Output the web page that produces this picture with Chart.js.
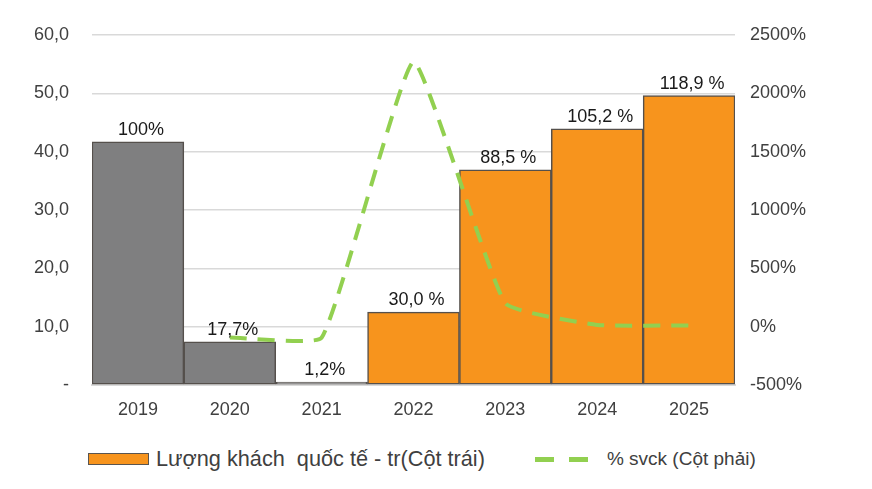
<!DOCTYPE html>
<html>
<head>
<meta charset="utf-8">
<script src="https://cdn.jsdelivr.net/npm/chart.js@4.4.1/dist/chart.umd.min.js"></script>
<style>
  body { margin: 0; background: #fff; font-family: 'Liberation Sans', Arial, sans-serif; }
  #wrap { position: relative; width: 872px; height: 489px; }
  #myChart { position: absolute; left: 0; top: 0; }
  #legend { position: absolute; left: 88px; top: 446px; color: #404040; white-space: nowrap; }
  #legend span { display: inline-block; vertical-align: middle; }
  .box { width: 59px; height: 10px; background: #f7941d; border: 1.5px solid #5a5550; margin-right: 7px; }
  .dash { width: 19px; height: 5px; background: #92d050; margin-right: 15px; }
</style>
</head>
<body>
<div id="wrap">
  <canvas id="myChart" width="872" height="430"></canvas>
  <div id="legend">
    <span class="box"></span><span style="font-size:21.7px">Lượng khách&nbsp; quốc tế - tr(Cột trái)</span><span style="width:50px"></span><span class="dash"></span><span class="dash"></span><span style="font-size:19px; margin-left:4px">% svck (Cột phải)</span>
  </div>
</div>
<script>
'use strict';

let years = [ '2019', '2020', '2021', '2022', '2023', '2024', '2025' ];
let visitors = [ 41.7, 7.4, 0.5, 12.5, 36.9, 43.9, 49.6 ];
let visitorLabels = [ '100%', '17,7%', '1,2%', '30,0 %', '88,5 %', '105,2 %', '118,9 %' ];
let growth = [ null, -92, -94, 2270, 200, 15, 10 ];
let barColors = [ '#7f7f80', '#7f7f80', '#7f7f80', '#f7941d', '#f7941d', '#f7941d', '#f7941d' ];

// labels above each bar
let barLabelPlugin = {
  id: 'barLabels',
  afterDatasetsDraw( chart ) {
    let ctx = chart.ctx;
    let meta = chart.getDatasetMeta( 1 );
    ctx.save();
    ctx.font = '18px "Liberation Sans", Arial, sans-serif';
    ctx.fillStyle = '#1a1a1a';
    ctx.textAlign = 'center';
    ctx.textBaseline = 'bottom';
    meta.data.forEach( function( bar, i ) {
      ctx.fillText( visitorLabels[i], bar.x + 3, bar.y - 3 );
    } );
    ctx.restore();
  }
};

let ctx = document.getElementById( 'myChart' ).getContext( '2d' );

let myChart = new Chart( ctx, {
  type: 'bar',
  data: {
    labels: years,
    datasets: [{
      type: 'line',
      label: '% svck (Cột phải)',
      data: growth,
      yAxisID: 'y1',
      borderColor: '#92d050',
      borderWidth: 4,
      borderDash: [ 17, 11 ],
      tension: 0.12,
      pointRadius: 0,
      fill: false,
      order: 0
    }, {
      label: 'Lượng khách quốc tế - tr(Cột trái)',
      data: visitors,
      yAxisID: 'y',
      backgroundColor: barColors,
      borderColor: '#55504c',
      borderWidth: 1.5,
      borderSkipped: false,
      categoryPercentage: 1,
      barPercentage: 1,
      order: 1
    }]
  },
  plugins: [ barLabelPlugin ],
  options: {
    responsive: false,
    animation: false,
    layout: { padding: { top: 35, left: 0, right: 0, bottom: 0 } },
    plugins: {
      legend: { display: false },
      tooltip: { enabled: false }
    },
    scales: {
      x: {
        grid: { display: false, drawTicks: false },
        border: { color: '#d9d9d9', width: 2 },
        ticks: { color: '#404040', font: { size: 18, family: 'Liberation Sans' }, padding: 14 },
        afterFit( scale ) { scale.height = 45; }
      },
      y: {
        position: 'left',
        min: 0,
        max: 60,
        ticks: {
          stepSize: 10,
          color: '#404040',
          font: { size: 18, family: 'Liberation Sans' },
          padding: 23,
          callback: function( v ) { return v === 0 ? '-' : v.toFixed( 1 ).replace( '.', ',' ); }
        },
        grid: { color: '#d9d9d9', lineWidth: 1.5, drawTicks: false },
        border: { display: false },
        afterFit( scale ) { scale.width = 92; }
      },
      y1: {
        position: 'right',
        min: -500,
        max: 2500,
        ticks: {
          stepSize: 500,
          color: '#404040',
          font: { size: 18, family: 'Liberation Sans' },
          padding: 15,
          callback: function( v ) { return v + '%'; }
        },
        grid: { display: false, drawTicks: false },
        border: { display: false },
        afterFit( scale ) { scale.width = 137; }
      }
    }
  }
} );
</script>
</body>
</html>
